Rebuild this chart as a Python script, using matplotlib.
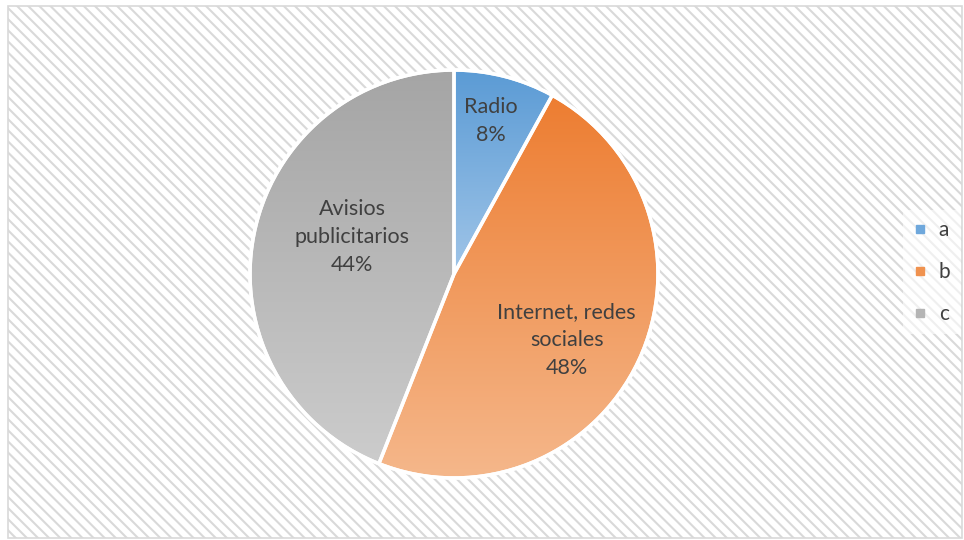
import matplotlib
matplotlib.use("Agg")
import matplotlib.pyplot as plt
import matplotlib.colors as mcolors
from matplotlib.patches import Rectangle
from matplotlib.lines import Line2D
import numpy as np

# Data
categories = ["Radio", "Internet, redes\nsociales", "Avisios\npublicitarios"]
legend_keys = ["a", "b", "c"]
percent = [8, 48, 44]

# gradient colours per slice (top -> bottom)
top_colors = ["#5B9BD5", "#ED7D31", "#A5A5A5"]
bottom_colors = ["#A0C5E8", "#F5B88C", "#CCCCCC"]
legend_colors = ["#6FA8DC", "#F0924F", "#B4B4B4"]

plt.rcParams['font.family'] = ['Lato', 'DejaVu Sans']
plt.rcParams['hatch.linewidth'] = 1.5
plt.rcParams['hatch.color'] = '#E6E6E6'

W, H = 964, 540
fig = plt.figure(figsize=(W / 100, H / 100), dpi=100)
fig.patch.set_facecolor('white')
ax = fig.add_axes([0, 0, 1, 1])

# chart area with diagonal stripes
bg = Rectangle((8, 2), W - 10, H - 8, facecolor='white', edgecolor='#D9D9D9',
               hatch='\\\\\\', linewidth=1.2, zorder=0)
ax.add_patch(bg)

cx, cy, r = 454, 266, 204
wedges, _ = ax.pie(percent, startangle=90, counterclock=False,
                   center=(cx, cy), radius=r, frame=True,
                   wedgeprops=dict(facecolor='none', edgecolor='white', linewidth=2.5))
ax.set_xlim(0, W)
ax.set_ylim(0, H)
ax.set_aspect('equal')
ax.axis('off')

for w, c0, c1 in zip(wedges, top_colors, bottom_colors):
    w.set_zorder(3)
    v = w.get_path().vertices
    x0, x1 = v[:, 0].min(), v[:, 0].max()
    y0, y1 = v[:, 1].min(), v[:, 1].max()
    a = np.array(mcolors.to_rgb(c0))
    b = np.array(mcolors.to_rgb(c1))
    t = np.linspace(0, 1, 256)[:, None, None]
    grad = a * (1 - t) + b * t
    im = ax.imshow(grad, extent=(x0, x1, y0, y1), origin='upper',
                   aspect='auto', zorder=2, interpolation='bilinear')
    im.set_clip_path(w)

# outer white rim
ax.add_patch(plt.Circle((cx, cy), r, facecolor='none', edgecolor='white',
                        linewidth=2.5, zorder=4))

# data labels (distance as fraction of radius, angle in degrees)
label_pos = [(0.77, 76.4), (0.64, -30.3), (0.53, 160.0)]
for name, p, (d, ang) in zip(categories, percent, label_pos):
    th = np.deg2rad(ang)
    ax.text(cx + d * r * np.cos(th), cy + d * r * np.sin(th), f"{name}\n{p}%",
            ha='center', va='center', fontsize=15.5, color='#404040',
            linespacing=1.5, zorder=5)

handles = [Line2D([], [], marker='s', linestyle='none', markersize=6,
                  markerfacecolor=c, markeredgecolor=c) for c in legend_colors]
leg = ax.legend(handles, legend_keys, loc='center left',
                bbox_to_anchor=(893 / W, 268 / H), frameon=True,
                fontsize=15, labelspacing=1.05, handlelength=0.6,
                handletextpad=0.6, borderpad=0.5)
leg.get_frame().set_facecolor('white')
leg.get_frame().set_edgecolor('none')
leg.get_frame().set_alpha(0.6)
for t in leg.get_texts():
    t.set_color('#404040')

fig.savefig('out.png', dpi=100)
